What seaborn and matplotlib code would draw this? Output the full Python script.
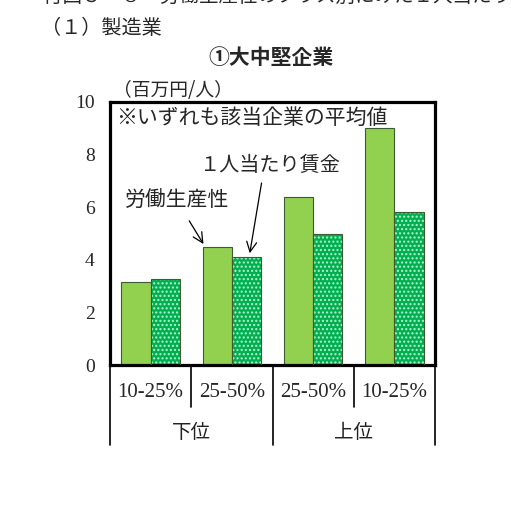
import pandas as pd
import seaborn as sns
import matplotlib.pyplot as plt
from matplotlib.patches import Rectangle

# data (million yen per person)
classes = ['下位10-25%', '下位25-50%', '上位25-50%', '上位10-25%']
class_labels = ['10-25%', '25-50%', '25-50%', '10-25%']
groups = ['下位', '上位']
productivity = [3.17, 4.5, 6.4, 9.0]
wage = [3.28, 4.1, 5.0, 5.8]
series = ['労働生産性', '１人当たり賃金']

sns.set_style('white')
plt.rcParams['font.family'] = ['Noto Sans CJK JP', 'DejaVu Sans']

df = pd.DataFrame({
    'cls': classes * 2,
    'series': [series[0]] * 4 + [series[1]] * 4,
    'value': productivity + wage,
})

fig = plt.figure(figsize=(5.11, 5.23), dpi=100)
ax = fig.add_axes([0.2153, 0.302, 0.636, 0.503])

edge = '#3d5a30'
sns.barplot(data=df, x='cls', y='value', hue='series', order=classes,
            hue_order=series, palette=['#92d050', '#00b050'], saturation=1,
            width=0.72, edgecolor=edge, linewidth=0.8, ax=ax, legend=False)

# dotted pattern for the wage bars, then redraw their outline
for bar in ax.containers[1]:
    bar.set_hatch('....')
    bar.set_edgecolor('#b5f2cf')
    bar.set_linewidth(0)
    ax.add_patch(Rectangle(bar.get_xy(), bar.get_width(), bar.get_height(),
                           fill=False, edgecolor=edge, lw=0.8, zorder=3))

ax.set_xlim(-0.5, len(classes) - 0.5)
ax.set_ylim(0, 10)
ax.set_yticks(range(0, 11, 2))
ax.set_xticks(range(len(classes)))
ax.set_xticklabels(class_labels, family=['Liberation Serif'], fontsize=15)
ax.set_xlabel('')
ax.set_ylabel('')
ax.tick_params(axis='y', direction='in', length=4, width=1, pad=11,
               labelsize=14)
for lab in ax.get_yticklabels():
    lab.set_family(['Liberation Serif'])
ax.tick_params(axis='x', length=0, pad=13)
for s in ax.spines.values():
    s.set_visible(True)
    s.set_linewidth(2.3)
    s.set_color('black')

# category separators below the axis
trans = ax.get_xaxis_transform()
for i in range(len(classes) + 1):
    low = -0.304 if i % 2 == 0 else -0.16
    ax.plot([i - 0.5, i - 0.5], [0, low], color='black', lw=1.2,
            transform=trans, clip_on=False)
for j, g in enumerate(groups):
    ax.text(2 * j + 0.5, -0.255, g, transform=trans, ha='center',
            va='center', fontsize=14, color='#222222')

ax.text(0.02, 0.94, '※いずれも該当企業の平均値', transform=ax.transAxes,
        fontsize=15, va='center', ha='left')
ax.text(0.01, 1.045, '（百万円/人）', transform=ax.transAxes,
        fontsize=13.5, va='center', ha='left')

# arrows pointing at the second group's bars
p_bar = ax.containers[0][1]
w_bar = ax.containers[1][1]
ax.annotate(series[0], xy=(p_bar.get_x() + 0.01, p_bar.get_height() + 0.1),
            xytext=(-0.32, 6.25), fontsize=15, va='center', ha='left',
            arrowprops=dict(arrowstyle='->', color='black', lw=0.9,
                            shrinkA=5, shrinkB=0, mutation_scale=18))
ax.annotate(series[1], xy=(w_bar.get_x() + 0.22, w_bar.get_height() + 0.15),
            xytext=(0.6, 7.6), fontsize=14.5, va='center', ha='left',
            arrowprops=dict(arrowstyle='->', color='black', lw=0.9,
                            shrinkA=3, shrinkB=0, mutation_scale=18,
                            relpos=(0.45, 0.0)))

fig.text(0.084, 1 + 4 / 523, '付図３－８　労働生産性のクラス別にみた１人当たり賃金',
         fontsize=14, va='center', ha='left')
fig.text(0.08, 1 - 28 / 523, '（１）製造業', fontsize=14.5, va='center',
         ha='left')
fig.text(0.53, 1 - 57 / 523, '①大中堅企業', fontsize=15, va='center',
         ha='center', fontweight='bold')

fig.savefig('out.png', dpi=100)
